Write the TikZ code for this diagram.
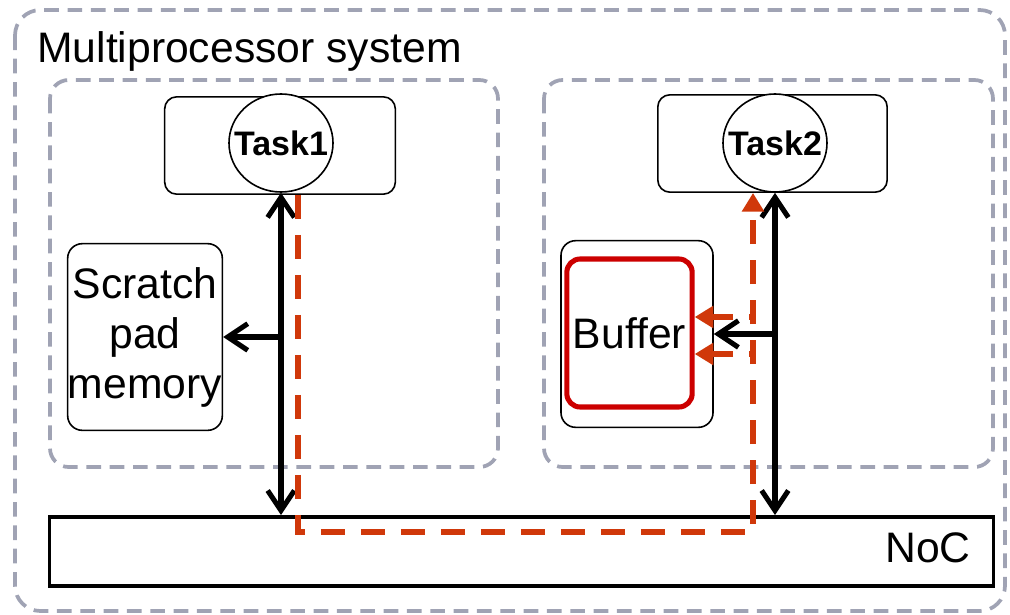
\documentclass[tikz,border=0pt]{standalone}
\usepackage{fontspec}
\setmainfont{Liberation Sans}
\usetikzlibrary{arrows.meta,shapes.geometric,calc}
\definecolor{groupgray}{RGB}{160,163,180}
\definecolor{flowred}{RGB}{208,56,10}
\definecolor{bufred}{RGB}{204,0,0}

\begin{document}
\begin{tikzpicture}[x=0.75pt,y=-0.75pt,
  group/.style={draw=groupgray, line width=2.8pt, dash pattern=on 11pt off 6.5pt, rounded corners=14pt},
  unit/.style={draw, line width=1.2pt, rounded corners=9pt, fill=white, inner sep=0pt},
  task/.style={draw, ellipse, line width=1.2pt, fill=white, inner sep=0pt,
    minimum width=78pt, minimum height=73.5pt},
  tasklabel/.style={inner sep=0pt, font=\bfseries\fontsize{25.5}{28}\selectfont},
  big/.style={font=\fontsize{32}{37.5}\selectfont},
  bus/.style={line width=3.8pt,
    {Straight Barb[length=15pt,width=20pt]}-{Straight Barb[length=15pt,width=20pt]}},
  tap/.style={line width=3.8pt, -{Straight Barb[length=15pt,width=20pt]}},
  flow/.style={draw=flowred, line width=4pt, dash pattern=on 18pt off 12pt},
  flowtip/.style={-{Triangle[length=14pt,width=16pt]}, flowred}
]
\useasboundingbox (0,0) rectangle (1010,614);

% system frame and the two processor tiles
\draw[group, rounded corners=19pt] (15,10) rectangle (1005,611);
\node[big, anchor=base west, inner sep=0pt] (title) at (37,62) {Multiprocessor system};
\draw[group] (50,80) rectangle (498,467);
\draw[group] (544,80) rectangle (993,467);

% network on chip
\node[draw, line width=2.6pt, minimum width=708pt, minimum height=52pt, inner sep=0pt] (noc) at (521.5,551.5) {};
\node[big] (noclabel) at (928,548) {NoC};

% tile 1
\node[unit, minimum width=173pt, minimum height=73pt] (p1) at (280,145.5) {};
\node[task] (t1) at (281,143) {};
\node[tasklabel] (t1label) at (t1.center) {Task1};
\node[unit, rounded corners=11pt, minimum width=116pt, minimum height=140pt, big, align=center] (spm) at (145,337) {Scratch\\pad\\memory};

% tile 2
\node[unit, minimum width=172pt, minimum height=73pt] (p2) at (772.5,143.5) {};
\node[task] (t2) at (775,143) {};
\node[tasklabel] (t2label) at (t2.center) {Task2};
\node[unit, rounded corners=11pt, minimum width=114pt, minimum height=140pt] (bufo) at (637,334) {};
\node[draw=bufred, line width=3.8pt, rounded corners=10pt, minimum width=94pt, minimum height=111pt, big] (buf) at (629.5,333) {Buffer};

% local buses
\draw[bus] (t1.south) -- (t1.south |- noc.north);
\coordinate (j1) at (t1.south |- spm.east);
\draw[tap] (j1) -- (spm.east);
\draw[bus] (t2.south) -- (t2.south |- noc.north);
\coordinate (j2) at (t2.south |- bufo.east);
\draw[tap] (j2) -- (bufo.east);

% data flow from Task1 through the NoC to Task2 and its buffer
\coordinate (r1) at ($(p1.south)+(18,0)$);
\coordinate (rb1) at (298,532);
\coordinate (rb2) at (753,532);
\draw[flow, flowtip] (r1) -- (r1 |- rb1) -- (rb2) -- (rb2 |- p2.south);
\coordinate (f1) at (753,317);
\coordinate (f2) at (753,354);
\draw[flow, flowtip, dash phase=15pt] (f1) -- (buf.east |- f1);
\draw[flow, flowtip, dash phase=15pt] (f2) -- (buf.east |- f2);
\end{tikzpicture}
\end{document}
